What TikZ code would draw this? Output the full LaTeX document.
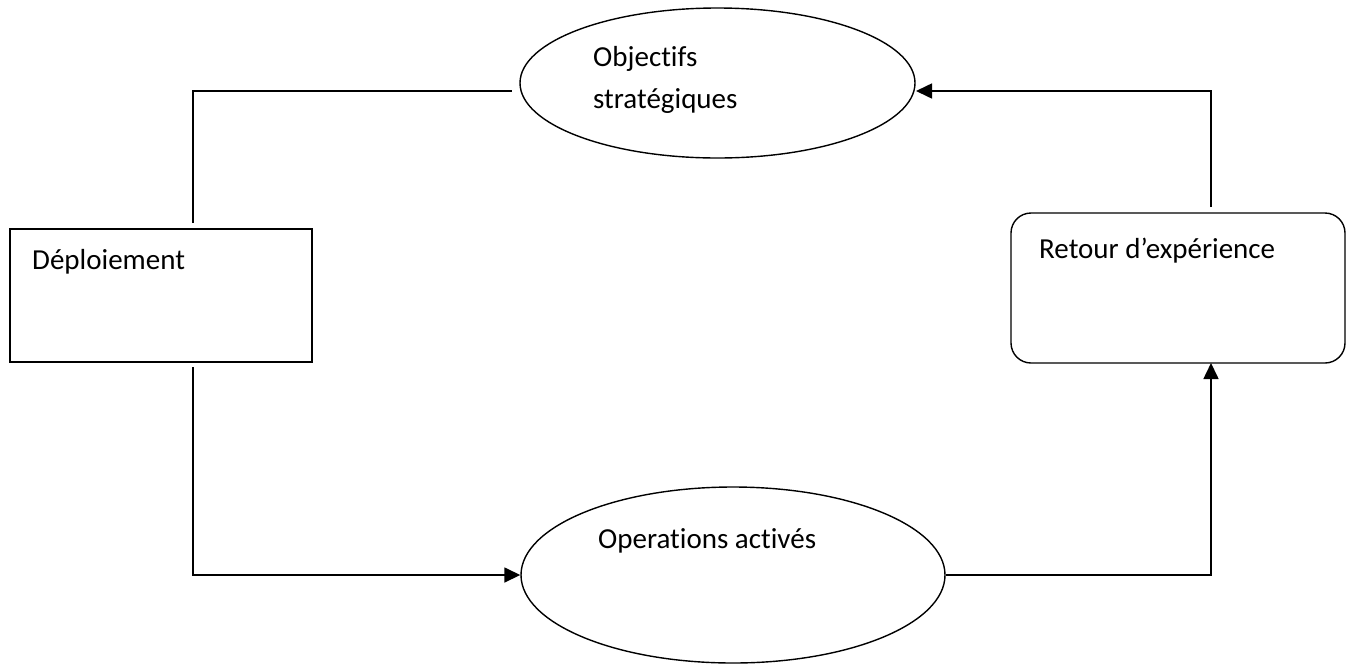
\documentclass[tikz,border=0pt]{standalone}
\usepackage{fontspec}
\setmainfont{Carlito}[Ligatures=NoCommon]
\usetikzlibrary{shapes.geometric,arrows.meta}
\begin{document}
\begin{tikzpicture}[x=1pt,y=-1pt,
  shp/.style={draw=black,line width=1.4pt,inner sep=0pt},
  oval/.style={shp,ellipse},
  box/.style={shp,rectangle},
  rbox/.style={shp,rectangle,rounded corners=20pt},
  lbl/.style={anchor=base west,inner sep=0pt,font=\fontsize{29}{42}\selectfont},
  conn/.style={line width=1.6pt},
  tri/.style={conn,-{Triangle[length=16pt,width=15pt]}}]
\useasboundingbox (0,0) rectangle (1352,665);
\node[oval,minimum width=395pt,minimum height=150pt] (obj) at (717.5,83) {};
\node[oval,minimum width=424pt,minimum height=176pt] (ops) at (733,575) {};
\node[box,minimum width=302pt,minimum height=133pt] (dep) at (161,295.5) {};
\node[rbox,minimum width=334pt,minimum height=150pt] (ret) at (1178,288) {};
\node[lbl] (tobj1) at (593,66) {Objectifs};
\node[lbl] (tobj2) at (593,108) {stratégiques};
\node[lbl] (tdep) at (32,269) {Déploiement};
\node[lbl] (tret) at (1039,258) {Retour d’expérience};
\node[lbl] (tops) at (598,548) {Operations activés};
\coordinate (a1) at (193,223);
\coordinate (a2) at (512,91);
\coordinate (b1) at (193,367);
\coordinate (c2) at (1211,363);
\coordinate (d1) at (1211,207);
\coordinate (d2) at (916,91);
\draw[conn] (a1) |- (a2);
\draw[tri] (b1) |- (ops.west);
\draw[tri] (ops.east) -| (c2);
\draw[tri] (d1) |- (d2);
\end{tikzpicture}
\end{document}
